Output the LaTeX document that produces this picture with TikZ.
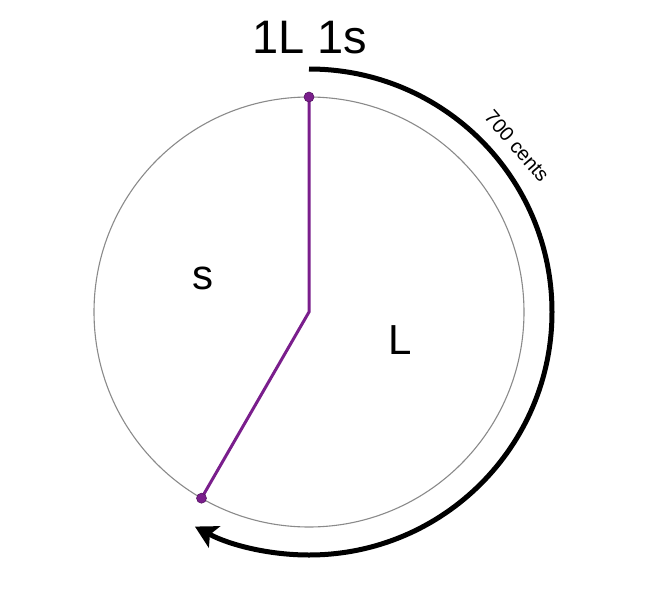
\documentclass[tikz,border=0pt]{standalone}
\usepackage{fontspec}
\setmainfont{Liberation Sans}
\usetikzlibrary{arrows.meta,calc}
\definecolor{purp}{HTML}{7A1E8C}
\definecolor{ringgray}{HTML}{8A8A8A}
\tikzset{
  ring/.style={draw=ringgray, line width=1.1pt},
  radius line/.style={draw=purp, line width=3pt},
  dot/.style={circle, fill=purp, draw=purp!70!black, line width=0.6pt, inner sep=0pt, minimum size=10pt},
  bigarc/.style={draw=black, line width=5pt, -{Stealth[length=22pt,width=24pt,inset=5pt]}},
  biglabel/.style={font=\fontsize{47}{50}\selectfont, inner sep=0pt},
  steplabel/.style={font=\fontsize{42}{44}\selectfont, inner sep=0pt},
  smalllabel/.style={font=\fontsize{20}{22}\selectfont, inner sep=0pt}
}
\begin{document}
\begin{tikzpicture}[x=1pt,y=-1pt]
\useasboundingbox (0,0) rectangle (646,600);
\coordinate (c) at (309,312);
\path[ring] (c) circle[radius=215];
\coordinate (ptop) at ($(c)+(0,-215)$);
\coordinate (pbot) at ($(c)+({215*cos(240)},{-215*sin(240)})$);
\draw[radius line] (ptop) -- (c) -- (pbot);
\node[dot] (dtop) at (ptop) {};
\node[dot] (dbot) at (pbot) {};
\coordinate (arcstart) at (309,69);
\draw[bigarc] (arcstart) arc[start angle=-90, end angle=118, radius=243];
\node[biglabel] (title) at (310,38) {1L 1s};
\node[steplabel] (s) at (203,278) {s};
\node[steplabel] (L) at (400,340) {L};
\node[smalllabel, rotate=-49] (cents) at (517,146) {700 cents};
\end{tikzpicture}
\end{document}
